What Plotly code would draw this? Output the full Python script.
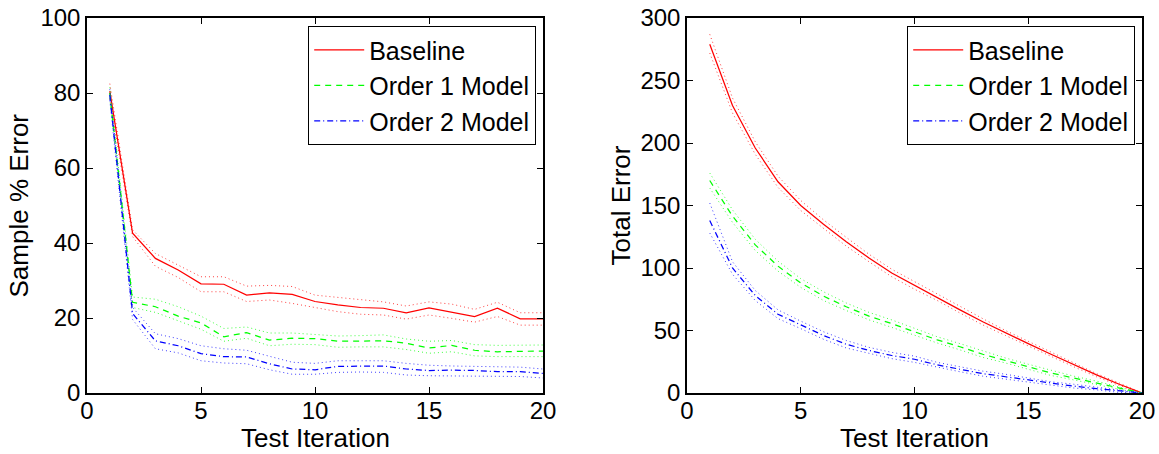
import plotly.graph_objects as go

iters = list(range(1, 21))

# Left panel: Sample % Error
base_pct = [80.5, 42.6, 35.9, 32.8, 29.1, 29.0, 26.1, 26.7, 26.3, 24.4, 23.5, 22.8, 22.6, 21.4, 22.7, 21.6, 20.4, 22.6, 19.8, 19.8]
base_pct_hi = [82.5, 43.5, 37.2, 34.2, 31.0, 31.0, 28.5, 28.7, 28.4, 26.1, 25.5, 24.8, 24.3, 23.2, 24.3, 23.7, 22.3, 24.2, 21.4, 21.4]
base_pct_lo = [78.5, 41.7, 33.8, 30.8, 27.0, 27.0, 24.4, 24.8, 23.9, 22.8, 21.7, 21.0, 20.8, 19.7, 20.8, 19.9, 18.9, 20.4, 18.1, 18.1]

o1_pct = [80.0, 24.2, 23.0, 20.5, 18.7, 15.0, 16.1, 14.1, 14.6, 14.5, 13.8, 13.8, 13.9, 13.3, 12.0, 12.7, 11.4, 11.0, 11.2, 11.2]
o1_pct_hi = [81.5, 25.6, 25.0, 23.0, 20.5, 17.2, 17.6, 16.0, 16.0, 15.7, 15.2, 15.3, 15.5, 14.4, 13.8, 14.0, 12.9, 12.7, 12.8, 12.8]
o1_pct_lo = [78.5, 22.8, 21.5, 19.2, 17.0, 13.8, 14.6, 12.6, 13.0, 12.9, 12.2, 12.3, 12.3, 11.6, 10.6, 11.0, 9.9, 9.7, 9.7, 9.7]

o2_pct = [79.5, 21.2, 13.9, 12.6, 10.5, 9.7, 9.6, 7.8, 6.4, 6.2, 7.1, 7.2, 7.2, 6.4, 6.0, 6.1, 6.0, 5.7, 5.7, 5.2]
o2_pct_hi = [81.0, 22.8, 15.8, 14.5, 12.6, 11.8, 11.4, 9.8, 8.2, 7.9, 8.6, 8.6, 8.6, 7.9, 7.4, 7.2, 7.1, 6.9, 6.9, 6.4]
o2_pct_lo = [78.0, 19.6, 11.8, 10.7, 8.6, 8.0, 7.8, 6.2, 5.0, 5.0, 5.5, 5.6, 5.5, 4.8, 4.6, 4.6, 4.6, 4.4, 4.4, 4.0]

# Right panel: Total Error
base_tot = [279, 230, 196, 169, 150, 135, 121, 108, 96, 86, 76.5, 66.5, 57, 48, 39.5, 31, 22.5, 14.5, 7, 0]
base_tot_hi = [287, 236, 201, 173.5, 154, 138.5, 124.5, 111, 99, 89, 79, 69, 59.5, 50, 41.5, 32.5, 24, 15.5, 8, 0]
base_tot_lo = [272, 224, 191, 164.5, 146, 131.5, 117.5, 105, 93, 83, 74, 64, 54.5, 46, 37.5, 29.5, 21, 13, 6, 0]

o1_tot = [170, 141.5, 118.5, 101.5, 88, 77.5, 69, 61.5, 55.5, 49, 42.5, 37, 31, 26, 21, 16, 12, 8, 4, 0]
o1_tot_hi = [176, 146.5, 123, 105.5, 91.5, 81, 72, 64.5, 58.5, 52, 45, 39.5, 33.5, 28, 23, 18, 13.5, 9.5, 5, 0]
o1_tot_lo = [164, 136.5, 114, 97.5, 84.5, 74, 66, 58.5, 52.5, 46, 40, 34.5, 28.5, 24, 19, 14, 10.5, 6.5, 3, 0]

o2_tot = [138, 100, 78, 63, 54.5, 46, 39, 34, 30, 27, 22.5, 19, 15.5, 13, 10.5, 7.5, 5.5, 3.5, 1.5, 0]
o2_tot_hi = [152, 105, 82, 66.5, 57.5, 49, 42, 36.5, 32.5, 29.5, 24.5, 21, 17.5, 15, 12, 9, 7, 4.5, 2.5, 0]
o2_tot_lo = [128, 95, 74, 59.5, 51.5, 43, 36, 31.5, 27.5, 24.5, 20.5, 17, 13.5, 11, 9, 6, 4, 2.5, 0.5, 0]

names = ["Baseline", "Order 1 Model", "Order 2 Model"]
colors = ["#ff0000", "#00ff00", "#0000ff"]
dashes = ["solid", "6px,5px", "6px,3px,1px,3px"]

x_title = "Test Iteration"
y_titles = ["Sample % Error", "Total Error"]

FONT = "Liberation Sans, Arial, Helvetica, sans-serif"

fig = go.Figure()

panels = [
    ("x", "y", "legend", [(base_pct, base_pct_hi, base_pct_lo), (o1_pct, o1_pct_hi, o1_pct_lo), (o2_pct, o2_pct_hi, o2_pct_lo)]),
    ("x2", "y2", "legend2", [(base_tot, base_tot_hi, base_tot_lo), (o1_tot, o1_tot_hi, o1_tot_lo), (o2_tot, o2_tot_hi, o2_tot_lo)]),
]

for xa, ya, leg, series in panels:
    for (mid, hi, lo), name, col, dsh in zip(series, names, colors, dashes):
        for band in (hi, lo):
            fig.add_trace(go.Scatter(x=iters, y=band, mode="lines", xaxis=xa, yaxis=ya,
                                     line=dict(color=col, width=1, dash="1px,3px"),
                                     opacity=0.75, showlegend=False, hoverinfo="skip"))
        fig.add_trace(go.Scatter(x=iters, y=mid, mode="lines", name=name, xaxis=xa, yaxis=ya,
                                 line=dict(color=col, width=1.25, dash=dsh), legend=leg))

# Pixel geometry of the two axes boxes (page is shown with body margin 0)
W, H = 1159, 454
ax_l1, ax_r1 = 87, 543
ax_l2, ax_r2 = 687, 1142
ax_t, ax_b = 18, 393
ml, mr, mt, mb = ax_l1, W - ax_r2, ax_t, H - ax_b
pw = W - ml - mr
ph = H - mt - mb

def px_x(p):  # page pixel x -> paper x
    return (p - ml) / pw

def px_y(p):  # page pixel y -> paper y
    return 1 - (p - mt) / ph

axis_common = dict(showline=True, linecolor="black", linewidth=1.5, mirror="allticks",
                   ticks="inside", ticklen=6, tickwidth=1, tickcolor="black",
                   showgrid=False, zeroline=False, automargin=False,
                   ticklabeloverflow="allow",
                   tickfont=dict(family=FONT, size=24, color="black"))

legend_common = dict(bordercolor="black", borderwidth=1.2, bgcolor="white",
                     font=dict(family=FONT, size=25, color="black"),
                     tracegroupgap=0, itemwidth=50, yanchor="top", xanchor="right")

title_font = dict(family=FONT, size=26, color="black")

fig.update_layout(
    template="none",
    width=W, height=H,
    margin=dict(l=ml, r=mr, t=mt, b=mb, autoexpand=False),
    paper_bgcolor="white", plot_bgcolor="white",
    font=dict(family=FONT, color="black"),
    xaxis=dict(domain=[0, (ax_r1 - ml) / pw], range=[0, 20], dtick=5, tick0=0,
               ticklabelstandoff=-5, anchor="y", **axis_common),
    yaxis=dict(domain=[0, 1], range=[0, 100], dtick=20, tick0=0, anchor="x", **axis_common),
    xaxis2=dict(domain=[(ax_l2 - ml) / pw, 1], range=[0, 20], dtick=5, tick0=0,
                ticklabelstandoff=-5, anchor="y2", **axis_common),
    yaxis2=dict(domain=[0, 1], range=[0, 300], dtick=50, tick0=0, anchor="x2", **axis_common),
    legend=dict(x=px_x(536), y=px_y(26), **legend_common),
    legend2=dict(x=px_x(1135), y=px_y(26), **legend_common),
)

# Axis titles placed as annotations for exact positioning
for cx in [(ax_l1 + ax_r1) / 2, (ax_l2 + ax_r2) / 2]:
    fig.add_annotation(text=x_title, xref="paper", yref="paper", x=px_x(cx), y=px_y(438),
                       xanchor="center", yanchor="middle", showarrow=False, font=title_font)
for cx, txt in zip([18, 620], y_titles):
    fig.add_annotation(text=txt, xref="paper", yref="paper", x=px_x(cx), y=px_y((ax_t + ax_b) / 2),
                       xanchor="center", yanchor="middle", textangle=-90, showarrow=False,
                       font=title_font)

fig.write_html("out.html",
               config={"displayModeBar": False},
               post_script="document.body.style.margin='0';document.body.style.overflow='hidden';")
